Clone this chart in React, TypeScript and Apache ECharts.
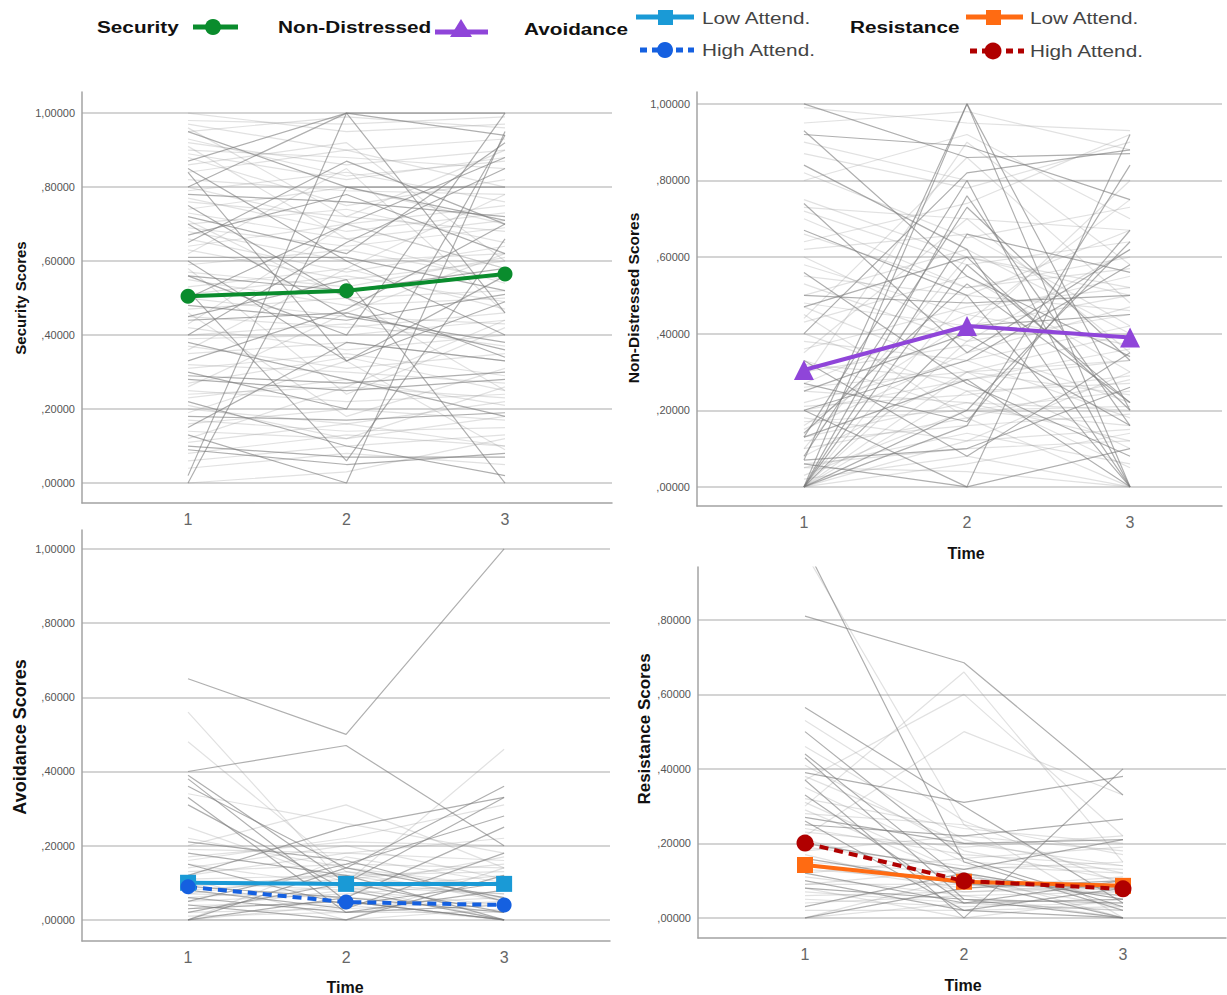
import React, { useEffect, useRef } from "react";
import * as echarts from "echarts";

const TIMES = [1, 2, 3];
const Y_TICKS = [0, 0.2, 0.4, 0.6, 0.8, 1.0];
const RES_TICKS = [0, 0.2, 0.4, 0.6, 0.8];

// group means
const securityMean = [0.505, 0.52, 0.565];
const nonDistressedMean = [0.305, 0.42, 0.39];
const avoidanceLow = [0.1, 0.097, 0.097];
const avoidanceHigh = [0.089, 0.048, 0.04];
const resistanceLow = [0.142, 0.097, 0.086];
const resistanceHigh = [0.201, 0.099, 0.078];

// individual trajectories (time 1, 2, 3)
const securityDark: number[][] = [
  [0.02, 1.0, 0.46], [0.0, 0.8, 0.71], [0.87, 1.0, 0.94], [0.84, 0.33, 0.56],
  [0.1, 0.07, 0.07], [0.09, 0.05, 0.08], [0.13, 0.0, 0.95], [0.56, 0.4, 1.0],
  [0.3, 0.2, 0.94], [0.45, 0.55, 0.0], [0.29, 0.27, 0.3], [0.28, 0.25, 0.28],
  [0.61, 0.61, 0.52], [0.56, 0.52, 0.58], [0.78, 0.76, 0.72], [0.7, 0.45, 0.38],
  [0.44, 0.46, 0.36], [0.18, 0.17, 0.19], [0.85, 0.6, 0.4], [0.95, 0.8, 0.8],
  [0.65, 0.87, 0.7], [0.38, 0.28, 0.18], [0.5, 0.7, 0.88], [0.75, 0.5, 0.34],
  [0.67, 0.78, 0.62], [0.4, 0.65, 0.85], [0.22, 0.1, 0.02], [0.48, 0.44, 0.51],
  [0.6, 0.33, 0.49], [0.33, 0.47, 0.7], [0.8, 1.0, 1.0], [0.52, 0.06, 0.66],
  [0.72, 0.62, 0.92], [0.15, 0.38, 0.33],
];
const securityLight: number[][] = [
  [1.0, 0.95, 0.97], [0.97, 0.9, 0.93], [0.93, 0.83, 0.87], [0.9, 0.88, 0.85],
  [0.88, 0.75, 0.82], [0.82, 0.79, 0.78], [0.8, 0.7, 0.75], [0.76, 0.72, 0.68],
  [0.73, 0.66, 0.71], [0.7, 0.74, 0.65], [0.68, 0.6, 0.62], [0.66, 0.57, 0.64],
  [0.63, 0.55, 0.6], [0.59, 0.63, 0.55], [0.55, 0.48, 0.5], [0.53, 0.58, 0.47],
  [0.5, 0.45, 0.43], [0.47, 0.5, 0.52], [0.45, 0.42, 0.46], [0.42, 0.36, 0.4],
  [0.4, 0.43, 0.37], [0.37, 0.31, 0.35], [0.35, 0.38, 0.33], [0.32, 0.3, 0.27],
  [0.27, 0.34, 0.25], [0.25, 0.22, 0.24], [0.23, 0.28, 0.21], [0.2, 0.16, 0.22],
  [0.17, 0.14, 0.15], [0.14, 0.12, 0.18], [0.11, 0.16, 0.1], [0.06, 0.1, 0.13],
  [0.04, 0.08, 0.05], [0.0, 0.03, 0.12], [0.96, 0.72, 0.9], [0.86, 0.92, 0.6],
  [0.62, 0.85, 0.46], [0.58, 0.24, 0.42], [0.43, 0.7, 0.58], [0.36, 0.58, 0.78],
  [0.26, 0.46, 0.62], [0.19, 0.33, 0.09], [0.71, 0.5, 0.25], [0.91, 0.66, 0.54],
  [0.46, 0.18, 0.31], [0.12, 0.26, 0.44], [0.98, 0.97, 0.99], [0.95, 0.99, 0.96],
  [0.92, 0.86, 0.9], [0.89, 0.82, 0.88], [0.84, 0.9, 0.8], [0.79, 0.84, 0.76],
  [0.77, 0.68, 0.73], [0.74, 0.8, 0.7], [0.69, 0.64, 0.69], [0.64, 0.7, 0.58],
  [0.57, 0.53, 0.61], [0.51, 0.56, 0.49], [0.39, 0.4, 0.44], [0.31, 0.35, 0.29],
  [0.24, 0.26, 0.23], [0.16, 0.2, 0.17], [0.08, 0.13, 0.1], [0.21, 0.12, 0.26],
];

const nonDistDark: number[][] = [
  [0.93, 0.55, 0.34], [0.92, 0.89, 0.75], [1.0, 0.86, 0.87], [0.0, 1.0, 0.2],
  [0.07, 1.0, 0.0], [0.13, 0.8, 0.0], [0.0, 0.76, 0.16], [0.08, 0.73, 0.33],
  [0.0, 0.66, 0.56], [0.14, 0.53, 0.22], [0.0, 0.16, 0.84], [0.06, 0.0, 0.92],
  [0.67, 0.5, 0.0], [0.84, 0.62, 0.0], [0.27, 0.17, 0.67], [0.2, 0.33, 0.58],
  [0.0, 0.2, 0.64], [0.33, 0.08, 0.35], [0.5, 0.48, 0.5], [0.56, 0.27, 0.08],
  [0.47, 0.6, 0.2], [0.25, 0.4, 0.16], [0.0, 0.42, 0.45], [0.13, 0.28, 0.0],
  [0.4, 0.82, 0.88], [0.07, 0.1, 0.26], [0.74, 0.35, 0.62], [0.0, 0.58, 0.22],
  [0.2, 0.0, 0.1],
];
const nonDistLight: number[][] = [
  [0.99, 0.95, 0.93], [0.9, 0.8, 0.8], [0.8, 0.92, 0.7], [0.75, 0.6, 0.5],
  [0.73, 0.7, 0.67], [0.7, 0.52, 0.6], [0.62, 0.66, 0.42], [0.58, 0.45, 0.55],
  [0.53, 0.38, 0.45], [0.5, 0.62, 0.4], [0.47, 0.3, 0.33], [0.43, 0.55, 0.3],
  [0.4, 0.25, 0.27], [0.36, 0.47, 0.52], [0.33, 0.2, 0.25], [0.3, 0.37, 0.22],
  [0.27, 0.45, 0.37], [0.25, 0.22, 0.2], [0.22, 0.33, 0.18], [0.2, 0.28, 0.33],
  [0.18, 0.12, 0.15], [0.15, 0.35, 0.47], [0.13, 0.22, 0.12], [0.1, 0.18, 0.28],
  [0.08, 0.3, 0.1], [0.05, 0.14, 0.06], [0.02, 0.08, 0.0], [0.0, 0.25, 0.05],
  [0.0, 0.12, 0.3], [0.0, 0.38, 0.62], [0.0, 0.5, 0.67], [0.1, 0.6, 0.52],
  [0.16, 0.43, 0.75], [0.28, 0.9, 0.58], [0.35, 0.7, 0.35], [0.44, 0.86, 0.48],
  [0.05, 0.04, 0.0], [0.0, 0.06, 0.14], [0.6, 0.4, 0.8], [0.45, 0.18, 0.0],
  [0.64, 0.74, 0.92], [0.95, 0.98, 0.88], [0.87, 0.78, 0.9], [0.82, 0.65, 0.73],
  [0.72, 0.58, 0.64], [0.66, 0.52, 0.57], [0.55, 0.5, 0.46], [0.48, 0.42, 0.5],
  [0.38, 0.33, 0.42], [0.32, 0.28, 0.36], [0.26, 0.3, 0.24], [0.21, 0.24, 0.29],
  [0.17, 0.2, 0.21], [0.12, 0.16, 0.19], [0.06, 0.1, 0.12], [0.03, 0.2, 0.16],
  [0.0, 0.3, 0.4],
];

const avoidDark: number[][] = [
  [0.65, 0.5, 1.0], [0.4, 0.47, 0.2], [0.39, 0.1, 0.02], [0.38, 0.05, 0.0],
  [0.36, 0.14, 0.06], [0.33, 0.02, 0.04], [0.31, 0.08, 0.0], [0.21, 0.16, 0.05],
  [0.0, 0.14, 0.36], [0.02, 0.1, 0.33], [0.05, 0.15, 0.28], [0.0, 0.06, 0.25],
  [0.08, 0.03, 0.18], [0.18, 0.12, 0.0], [0.04, 0.0, 0.12], [0.12, 0.25, 0.33],
  [0.09, 0.06, 0.02], [0.15, 0.04, 0.1], [0.03, 0.05, 0.0], [0.06, 0.02, 0.08],
];
const avoidLight: number[][] = [
  [0.56, 0.09, 0.0], [0.48, 0.13, 0.05], [0.34, 0.26, 0.18], [0.2, 0.31, 0.14],
  [0.1, 0.1, 0.46], [0.16, 0.22, 0.31], [0.14, 0.2, 0.11], [0.19, 0.18, 0.16],
  [0.13, 0.15, 0.14], [0.11, 0.12, 0.13], [0.1, 0.08, 0.12], [0.07, 0.13, 0.09],
  [0.06, 0.09, 0.07], [0.05, 0.07, 0.1], [0.04, 0.04, 0.06], [0.03, 0.08, 0.04],
  [0.02, 0.03, 0.05], [0.01, 0.02, 0.02], [0.0, 0.0, 0.03], [0.0, 0.04, 0.0],
  [0.17, 0.21, 0.2], [0.12, 0.18, 0.22], [0.08, 0.11, 0.15], [0.22, 0.14, 0.09],
  [0.15, 0.09, 0.17], [0.07, 0.06, 0.04], [0.09, 0.12, 0.06], [0.25, 0.1, 0.07],
  [0.0, 0.17, 0.1], [0.11, 0.0, 0.14],
];

const resDark: number[][] = [
  [0.81, 0.685, 0.33], [1.0, 0.15, 0.02], [0.565, 0.3, 0.04], [0.5, 0.16, 0.03],
  [0.39, 0.31, 0.38], [0.37, 0.0, 0.4], [0.44, 0.1, 0.0], [0.43, 0.05, 0.0],
  [0.25, 0.22, 0.265], [0.27, 0.2, 0.21], [0.2, 0.13, 0.21], [0.16, 0.09, 0.08],
  [0.12, 0.04, 0.05], [0.1, 0.02, 0.0], [0.08, 0.05, 0.04], [0.0, 0.08, 0.1],
  [0.03, 0.12, 0.05], [0.26, 0.02, 0.08], [0.33, 0.04, 0.1],
];
const resLight: number[][] = [
  [0.3, 0.66, 0.15], [0.37, 0.6, 0.22], [0.22, 0.5, 0.33], [0.98, 0.25, 0.0],
  [0.46, 0.21, 0.12], [0.41, 0.18, 0.1], [0.35, 0.15, 0.13], [0.32, 0.24, 0.2],
  [0.29, 0.11, 0.07], [0.24, 0.17, 0.14], [0.21, 0.1, 0.06], [0.19, 0.14, 0.12],
  [0.17, 0.07, 0.09], [0.15, 0.12, 0.05], [0.14, 0.08, 0.11], [0.13, 0.1, 0.03],
  [0.11, 0.06, 0.07], [0.09, 0.09, 0.06], [0.07, 0.04, 0.02], [0.06, 0.07, 0.08],
  [0.05, 0.03, 0.04], [0.04, 0.06, 0.0], [0.02, 0.02, 0.03], [0.0, 0.04, 0.02],
  [0.0, 0.11, 0.06], [0.18, 0.22, 0.18], [0.23, 0.19, 0.22], [0.28, 0.25, 0.17],
  [0.38, 0.2, 0.14], [0.12, 0.16, 0.19], [0.09, 0.13, 0.15], [0.53, 0.26, 0.09],
  [0.31, 0.12, 0.0], [0.08, 0.0, 0.05],
];

const FONT = "'Liberation Sans', Arial, Helvetica, sans-serif";
const GREEN = "#0a8c2d";
const PURPLE = "#8f45d9";
const LBLUE = "#1a9ad6";
const BLUE = "#1560e0";
const ORANGE = "#ff6b12";
const DRED = "#b00000";

const fmtY = (v: number) => {
  const s = v.toFixed(5).replace(".", ",");
  return s.startsWith("0") ? s.slice(1) : s;
};

const panels = [
  { left: 82, top: 92, width: 530, height: 411, xMin: 0.331, xMax: 3.675, yMin: -0.054, yMax: 1.057, ticks: Y_TICKS },
  { left: 697, top: 92, width: 525, height: 414, xMin: 0.344, xMax: 3.564, yMin: -0.05, yMax: 1.031, ticks: Y_TICKS },
  { left: 82, top: 530, width: 528, height: 411, xMin: 0.329, xMax: 3.67, yMin: -0.057, yMax: 1.051, ticks: Y_TICKS },
  { left: 698, top: 567, width: 528, height: 371, xMin: 0.327, xMax: 3.648, yMin: -0.054, yMax: 0.942, ticks: RES_TICKS },
];

function spaghetti(rows: number[][], idx: number, color: string, opacity: number) {
  return rows.map((r) => ({
    type: "line",
    xAxisIndex: idx,
    yAxisIndex: idx,
    data: TIMES.map((t, i) => [t, r[i]]),
    symbol: "none",
    silent: true,
    z: 1,
    lineStyle: { color, width: 1.2, opacity },
  }));
}

function meanSeries(vals: number[], idx: number, color: string, symbol: string, size: number, dashed: boolean) {
  return {
    type: "line",
    xAxisIndex: idx,
    yAxisIndex: idx,
    data: TIMES.map((t, i) => [t, vals[i]]),
    symbol,
    symbolSize: size,
    z: 5,
    lineStyle: { color, width: 4, type: dashed ? [9, 6] : "solid" },
    itemStyle: { color, borderWidth: 0 },
  };
}

function legendText(text: string, x: number, y: number, bold: boolean) {
  return {
    type: "text",
    x,
    y,
    scaleX: 1.22,
    style: {
      text,
      fill: bold ? "#111" : "#444",
      font: `${bold ? "bold " : ""}17px ${FONT}`,
      align: "left",
      verticalAlign: "middle",
    },
  };
}

function legendLine(x1: number, x2: number, y: number, color: string, dashed: boolean) {
  return {
    type: "line",
    shape: { x1, y1: y, x2, y2: y },
    style: { stroke: color, lineWidth: 5, lineDash: dashed ? [7, 5] : null },
  };
}

function yTitle(text: string, x: number, y: number, size: number) {
  return {
    type: "text",
    x,
    y,
    rotation: Math.PI / 2,
    style: { text, fill: "#111", font: `bold ${size}px ${FONT}`, align: "center", verticalAlign: "middle" },
  };
}

function timeTitle(x: number, y: number) {
  return {
    type: "text",
    x,
    y,
    style: { text: "Time", fill: "#111", font: `bold 16px ${FONT}`, align: "center", verticalAlign: "middle" },
  };
}

export default function App() {
  const ref = useRef<HTMLDivElement>(null);
  useEffect(() => {
    document.body.style.margin = "0";
    if (!ref.current) return;
    const chart = echarts.init(ref.current, null, { renderer: "svg" });

    const grid = panels.map((p) => ({ left: p.left, top: p.top, width: p.width, height: p.height, containLabel: false }));
    const xAxis = panels.map((p, i) => ({
      type: "value",
      gridIndex: i,
      min: p.xMin,
      max: p.xMax,
      axisLine: { show: true, onZero: false, lineStyle: { color: "#a3a3a3", width: 1.5 } },
      axisTick: { show: false },
      splitLine: { show: false },
      axisLabel: {
        customValues: TIMES,
        color: "#666",
        fontSize: 16,
        fontFamily: FONT,
        margin: 8,
        formatter: (v: number) => String(Math.round(v)),
      },
    }));
    const yAxis = panels.map((p, i) => ({
      type: "value",
      gridIndex: i,
      min: p.yMin,
      max: p.yMax,
      axisLine: { show: true, onZero: false, lineStyle: { color: "#a3a3a3", width: 1.5 } },
      axisTick: { show: false, customValues: p.ticks },
      splitLine: { show: true, lineStyle: { color: "#d4d4d4", width: 2 } },
      axisLabel: {
        customValues: p.ticks,
        color: "#555",
        fontSize: 11,
        fontFamily: FONT,
        margin: 7,
        formatter: fmtY,
      },
    }));

    const series: any[] = [
      ...spaghetti(securityLight, 0, "#9a9a9a", 0.3),
      ...spaghetti(securityDark, 0, "#7a7a7a", 0.6),
      meanSeries(securityMean, 0, GREEN, "circle", 15, false),
      ...spaghetti(nonDistLight, 1, "#9a9a9a", 0.3),
      ...spaghetti(nonDistDark, 1, "#7a7a7a", 0.6),
      meanSeries(nonDistressedMean, 1, PURPLE, "triangle", 20, false),
      ...spaghetti(avoidLight, 2, "#9a9a9a", 0.3),
      ...spaghetti(avoidDark, 2, "#7a7a7a", 0.6),
      meanSeries(avoidanceLow, 2, LBLUE, "rect", 16, false),
      meanSeries(avoidanceHigh, 2, BLUE, "circle", 15, true),
      ...spaghetti(resLight, 3, "#9a9a9a", 0.3),
      ...spaghetti(resDark, 3, "#7a7a7a", 0.6),
      meanSeries(resistanceLow, 3, ORANGE, "rect", 16, false),
      meanSeries(resistanceHigh, 3, DRED, "circle", 17, true),
    ];

    const graphic: any[] = [
      // legend
      legendText("Security", 97, 27, true),
      legendLine(193, 238, 27, GREEN, false),
      { type: "circle", shape: { cx: 213, cy: 27, r: 8 }, style: { fill: GREEN } },
      legendText("Non-Distressed", 278, 27, true),
      legendLine(435, 488, 32, PURPLE, false),
      { type: "polygon", shape: { points: [[461, 19], [450, 37], [472, 37]] }, style: { fill: PURPLE } },
      legendText("Avoidance", 524, 29, true),
      legendLine(636, 694, 17, LBLUE, false),
      { type: "rect", shape: { x: 658, y: 10, width: 15, height: 15 }, style: { fill: LBLUE } },
      legendText("Low Attend.", 702, 18, false),
      legendLine(640, 694, 50, BLUE, true),
      { type: "circle", shape: { cx: 665, cy: 50, r: 8 }, style: { fill: BLUE } },
      legendText("High Attend.", 702, 50, false),
      legendText("Resistance", 850, 27, true),
      legendLine(966, 1023, 17, ORANGE, false),
      { type: "rect", shape: { x: 986, y: 10, width: 15, height: 15 }, style: { fill: ORANGE } },
      legendText("Low Attend.", 1030, 18, false),
      legendLine(970, 1024, 51, DRED, true),
      { type: "circle", shape: { cx: 993, cy: 51, r: 8.5 }, style: { fill: DRED } },
      legendText("High Attend.", 1030, 51, false),
      // axis titles
      yTitle("Security Scores", 20, 298, 15),
      yTitle("Non-Distressed Scores", 633, 298, 15.5),
      yTitle("Avoidance Scores", 20, 737, 18),
      yTitle("Resistance Scores", 644, 729, 17),
      timeTitle(966, 553),
      timeTitle(345, 987),
      timeTitle(963, 985),
    ];

    chart.setOption({
      animation: false,
      backgroundColor: "#ffffff",
      textStyle: { fontFamily: FONT },
      grid,
      xAxis,
      yAxis,
      series,
      graphic,
    });
    return () => chart.dispose();
  }, []);
  return <div ref={ref} style={{ width: 1227, height: 995 }} />;
}
